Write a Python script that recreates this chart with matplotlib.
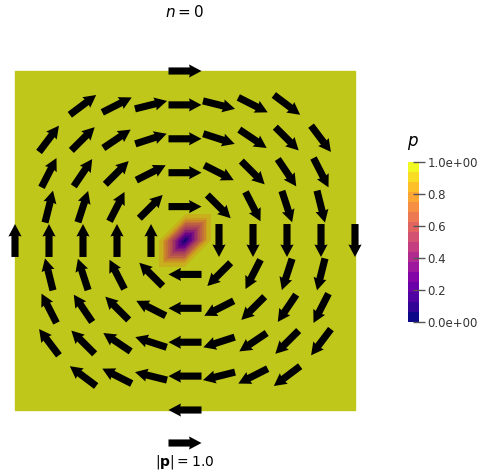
import numpy as np
import matplotlib
matplotlib.use("Agg")
from matplotlib import pyplot as plt
from matplotlib.colors import ListedColormap, Normalize
from matplotlib.cm import ScalarMappable
import matplotlib.tri as mtri

# arrow positions, one list per row of the sampling grid (top to bottom)
row_y = [1.0, 0.9, 0.8, 0.7, 0.6, 0.5, 0.4, 0.3, 0.2, 0.1, 0.0]
row_x = [
    [0.5],
    [0.2, 0.3, 0.4, 0.5, 0.6, 0.7, 0.8],
    [0.1, 0.2, 0.3, 0.4, 0.5, 0.6, 0.7, 0.8, 0.9],
    [0.1, 0.2, 0.3, 0.4, 0.5, 0.6, 0.7, 0.8, 0.9],
    [0.1, 0.2, 0.3, 0.4, 0.5, 0.6, 0.7, 0.8, 0.9],
    [0.0, 0.1, 0.2, 0.3, 0.4, 0.6, 0.7, 0.8, 0.9, 1.0],
    [0.1, 0.2, 0.3, 0.4, 0.5, 0.6, 0.7, 0.8, 0.9],
    [0.1, 0.2, 0.3, 0.4, 0.5, 0.6, 0.7, 0.8, 0.9],
    [0.1, 0.2, 0.3, 0.4, 0.5, 0.6, 0.7, 0.8, 0.9],
    [0.2, 0.3, 0.4, 0.5, 0.6, 0.7, 0.8],
    [0.5],
]
# arrow directions in degrees (counter-clockwise from +x)
row_angle = [
    [0],
    [37, 27, 14, 0, -14, -27, -37],
    [53, 45, 34, 18, 0, -18, -34, -45, -53],
    [63, 56, 45, 27, 0, -27, -45, -56, -63],
    [76, 72, 63, 45, 0, -45, -63, -72, -76],
    [90, 90, 90, 90, 90, -90, -90, -90, -90, -90],
    [104, 108, 117, 135, 180, -135, -117, -108, -104],
    [117, 124, 135, 153, 180, -153, -135, -124, -117],
    [127, 135, 146, 162, 180, -162, -146, -135, -127],
    [143, 153, 166, 180, -166, -153, -143],
    [180],
]
p_mag = 1.0          # |p| of every arrow

# nodal |p| on the mesh (29 x 29 nodes): 1 everywhere except the
# rings of nodes around the centre (ring 0, 1, 2)
n_nodes = 29
ring_vals = [0.0, 0.5, 0.92]

cbar_ticks = [0.0, 0.2, 0.4, 0.6, 0.8, 1.0]
cbar_labels = ["0.0e+00", "0.2", "0.4", "0.6", "0.8", "1.0e+00"]

X, Y, U, V = [], [], [], []
for y, xs, angs in zip(row_y, row_x, row_angle):
    for x, a in zip(xs, angs):
        X.append(x)
        Y.append(y)
        U.append(p_mag * np.cos(np.radians(a)))
        V.append(p_mag * np.sin(np.radians(a)))

mid = n_nodes // 2
node_vals = np.ones((n_nodes, n_nodes))
for j in range(n_nodes):
    for i in range(n_nodes):
        di, dj = i - mid, j - mid
        if di * dj >= 0:
            ring = max(abs(di), abs(dj))
        else:
            ring = abs(di) + abs(dj)
        if ring < len(ring_vals):
            node_vals[j, i] = ring_vals[ring]

base = plt.get_cmap("plasma")(np.linspace(0, 1, 16))
bright = ListedColormap(base)
shade = base.copy()
shade[:, :3] *= 0.8
dark = ListedColormap(shade)

fig = plt.figure(figsize=(4.8, 4.75), dpi=100)
ax = fig.add_axes([0, 0, 1, 1])
ax.set_xlim(-15 / 340, 465 / 340)
ax.set_ylim(-65 / 339, 1 + 71 / 339)
ax.axis("off")

# domain coloured by |p|
g = np.linspace(0, 1, n_nodes)
gx, gy = np.meshgrid(g, g)
tris = []
for j in range(n_nodes - 1):
    for i in range(n_nodes - 1):
        a = j * n_nodes + i
        b = a + 1
        c = a + n_nodes + 1
        d = a + n_nodes
        tris.append([a, b, c])
        tris.append([a, c, d])
tri = mtri.Triangulation(gx.ravel(), gy.ravel(), tris)
ax.add_patch(plt.Rectangle((0, 0), 1, 1, color=shade[-1], zorder=0))
ax.tricontourf(tri, node_vals.ravel(), levels=np.linspace(0, 1.0001, 17),
               cmap=dark, vmin=0, vmax=1.0001, zorder=1)

q = ax.quiver(X, Y, U, V, color="black", pivot="middle", angles="xy",
              scale_units="xy", scale=10.3, units="xy", width=0.021,
              headwidth=1.85, headlength=1.75, headaxislength=1.65, zorder=3)
ax.quiverkey(q, 0.5, -33 / 339, 1.0, r"$|\mathbf{p}| = 1.0$", labelpos="S",
             coordinates="data", labelsep=0.1, fontproperties={"size": 10})

fig.text(185 / 480, 1 - 12 / 475, r"$n = 0$", ha="center", va="center", fontsize=11)

# colour bar
cax = fig.add_axes([408 / 480, (475 - 322) / 475, 11 / 480, 160 / 475])
cb = fig.colorbar(ScalarMappable(norm=Normalize(0, 1), cmap=bright), cax=cax)
cb.outline.set_visible(False)
cb.set_ticks(cbar_ticks)
cb.set_ticklabels(cbar_labels)
cax.tick_params(direction="inout", length=8, width=1, color="#555555",
                labelcolor="#333333", labelsize=8.5, pad=2)
fig.text(413 / 480, 1 - 143 / 475, r"$p$", ha="center", va="center", fontsize=12)

fig.savefig("out.png", dpi=100, facecolor="white")
